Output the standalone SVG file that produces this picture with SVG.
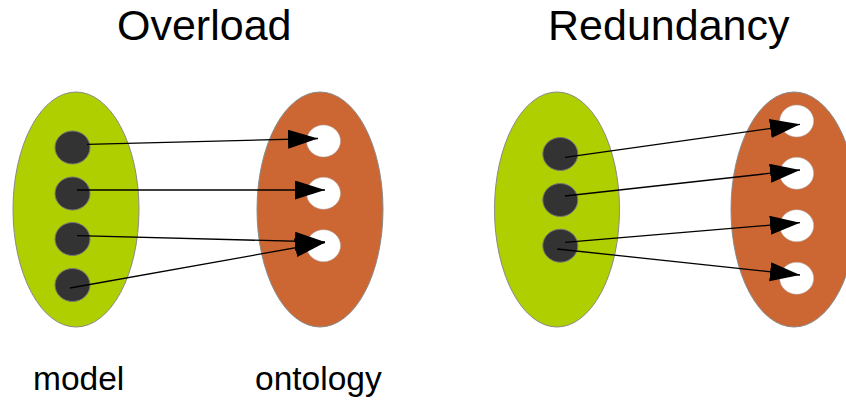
<svg xmlns="http://www.w3.org/2000/svg" width="846" height="401" viewBox="0 0 846 401">
  <style>
    .title { font-family: "Liberation Sans", Arial, sans-serif; font-size: 43px; fill: #000; }
    .label { font-family: "Liberation Sans", Arial, sans-serif; font-size: 33.5px; fill: #000; }
    .model { fill: #afcf00; stroke: #8a8a8a; stroke-width: 1; }
    .onto { fill: #cc6633; stroke: #8a8a8a; stroke-width: 1; }
    .src { fill: #333333; stroke: #777; stroke-width: 1; }
    .dst { fill: #ffffff; stroke: #aaa; stroke-width: 0.5; }
    .link { stroke: #000; stroke-width: 1.3; fill: none; marker-end: url(#head); }
  </style>
  <defs>
    <marker id="head" markerUnits="userSpaceOnUse" markerWidth="30" markerHeight="20" refX="30" refY="9.5" orient="auto">
      <path d="M0,0 L30,9.5 L0,19 Z" fill="#000"/>
    </marker>
  </defs>

  <rect width="846" height="401" fill="#fff"/>

  <text class="title" x="117" y="40">Overload</text>
  <text class="title" x="548" y="40">Redundancy</text>

  <!-- Overload: model set -->
  <g id="overload-model">
    <ellipse class="model" cx="76" cy="209.5" rx="63" ry="117.5"/>
    <ellipse class="src" cx="72.5" cy="147.5" rx="17.5" ry="16.5"/>
    <ellipse class="src" cx="72.5" cy="193.5" rx="17.5" ry="16.5"/>
    <ellipse class="src" cx="72.5" cy="239" rx="17.5" ry="16.5"/>
    <ellipse class="src" cx="72.5" cy="285" rx="17.5" ry="16.5"/>
  </g>

  <!-- Overload: ontology set -->
  <g id="overload-ontology">
    <ellipse class="onto" cx="320" cy="209.5" rx="63" ry="117.5"/>
    <ellipse class="dst" cx="323.5" cy="141" rx="17" ry="16"/>
    <ellipse class="dst" cx="323.5" cy="193.3" rx="17" ry="16"/>
    <ellipse class="dst" cx="323.5" cy="245.7" rx="17" ry="16"/>
  </g>

  <!-- Redundancy: model set -->
  <g id="redundancy-model">
    <ellipse class="model" cx="557" cy="209.5" rx="62.5" ry="117.5"/>
    <ellipse class="src" cx="560.3" cy="154" rx="17.5" ry="16.5"/>
    <ellipse class="src" cx="560.3" cy="200" rx="17.5" ry="16.5"/>
    <ellipse class="src" cx="560.3" cy="245.7" rx="17.5" ry="16.5"/>
  </g>

  <!-- Redundancy: ontology set -->
  <g id="redundancy-ontology">
    <ellipse class="onto" cx="794" cy="209.5" rx="63" ry="117.5"/>
    <ellipse class="dst" cx="796.7" cy="121" rx="17" ry="16"/>
    <ellipse class="dst" cx="796.7" cy="173.3" rx="17" ry="16"/>
    <ellipse class="dst" cx="796.7" cy="225.7" rx="17" ry="16"/>
    <ellipse class="dst" cx="796.7" cy="278.3" rx="17" ry="16"/>
  </g>

  <g id="connectors">
    <line class="link" x1="87" y1="144.3" x2="318" y2="138.5"/>
    <line class="link" x1="77" y1="190" x2="325" y2="190"/>
    <line class="link" x1="77" y1="235.7" x2="325" y2="242"/>
    <line class="link" x1="70" y1="288" x2="325" y2="242.5"/>

    <line class="link" x1="565" y1="157.3" x2="800" y2="124.3"/>
    <line class="link" x1="565" y1="196" x2="800" y2="170"/>
    <line class="link" x1="565" y1="242.3" x2="800" y2="222.7"/>
    <line class="link" x1="557.3" y1="249" x2="800" y2="275"/>
  </g>

  <text class="label" x="33" y="390">model</text>
  <text class="label" x="255" y="390">ontology</text>
</svg>
